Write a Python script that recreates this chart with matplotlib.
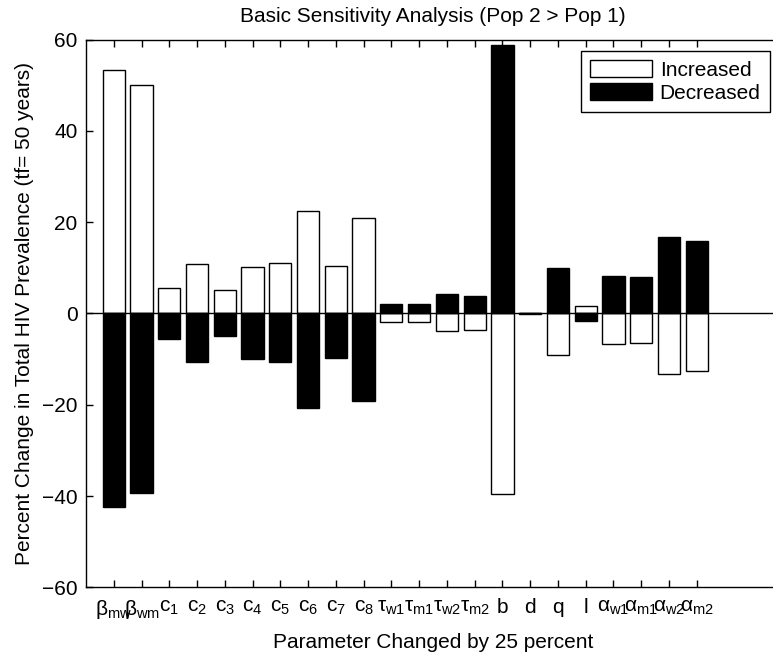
import matplotlib
matplotlib.use("Agg")
import matplotlib.pyplot as plt
import numpy as np

plt.rcParams['font.family'] = ['Liberation Sans', 'DejaVu Sans']
plt.rcParams['mathtext.fontset'] = 'custom'
plt.rcParams['mathtext.rm'] = 'Liberation Sans'
plt.rcParams['mathtext.it'] = 'Liberation Sans'
plt.rcParams['mathtext.bf'] = 'Liberation Sans:bold'

params = [r'$\beta_{mw}$', r'$\beta_{wm}$', r'$c_{1}$', r'$c_{2}$', r'$c_{3}$',
          r'$c_{4}$', r'$c_{5}$', r'$c_{6}$', r'$c_{7}$', r'$c_{8}$',
          r'$\tau_{w1}$', r'$\tau_{m1}$', r'$\tau_{w2}$', r'$\tau_{m2}$',
          'b', 'd', 'q', 'l',
          r'$\alpha_{w1}$', r'$\alpha_{m1}$', r'$\alpha_{w2}$', r'$\alpha_{m2}$']

increased = [53.3, 50.1, 5.5, 10.8, 5.1, 10.2, 11.0, 22.4, 10.3, 20.9,
             -1.9, -1.8, -3.9, -3.6, -39.5, -0.1, -9.2, 1.6,
             -6.6, -6.4, -13.2, -12.7]
decreased = [-42.3, -39.3, -5.5, -10.7, -4.9, -10.0, -10.6, -20.7, -9.8, -19.1,
             2.1, 2.0, 4.2, 3.9, 58.8, 0.1, 10.0, -1.7,
             8.3, 7.9, 16.7, 15.9]

fs = 15
fig = plt.figure(figsize=(7.73, 6.57), dpi=100)
ax = fig.add_axes([86/773, 1 - 587.3/657, 694/773, 547.6/657])

x = np.arange(1, len(params) + 1)
ax.bar(x, increased, width=0.8, color='white', edgecolor='black', linewidth=1,
       label='Increased', zorder=2)
ax.bar(x, decreased, width=0.8, color='black', edgecolor='black', linewidth=1,
       label='Decreased', zorder=2)
ax.axhline(0, color='black', linewidth=1, zorder=3)

ax.set_xlim(0, 25)
ax.set_ylim(-60, 60)
ax.set_xticks(x)
ax.set_xticklabels(params)
ax.set_yticks(np.arange(-60, 61, 20))
ax.tick_params(direction='in', length=5, width=1, labelsize=fs,
               top=True, right=False, pad=6)
ax.tick_params(axis='x', pad=8)
ax.spines['right'].set_visible(False)
for s in ax.spines.values():
    s.set_linewidth(1)

ax.set_title('Basic Sensitivity Analysis (Pop 2 > Pop 1)', fontsize=fs, pad=12.5)
ax.set_xlabel('Parameter Changed by 25 percent', fontsize=fs, labelpad=8)
ax.set_ylabel('Percent Change in Total HIV Prevalence (tf= 50 years)', fontsize=fs,
              labelpad=6)

leg = ax.legend(loc='upper right', bbox_to_anchor=(770/773, 1 - 50.7/657),
                bbox_transform=fig.transFigure, borderaxespad=0, fontsize=fs,
                fancybox=False, framealpha=1, edgecolor='black',
                handlelength=3.0, handleheight=0.9, handletextpad=0.35,
                labelspacing=0.15, borderpad=0.45)
leg.get_frame().set_linewidth(1)

fig.savefig('out.png', dpi=100)
